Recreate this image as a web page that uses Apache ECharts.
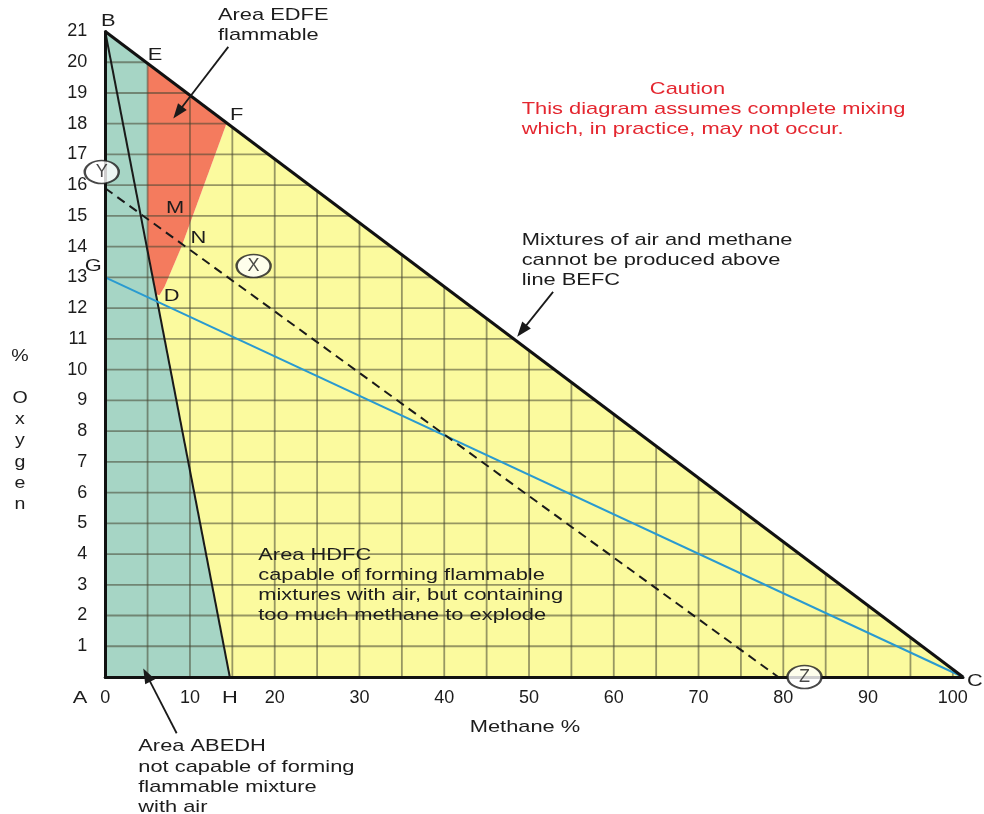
<!DOCTYPE html>
<html>
<head>
<meta charset="utf-8">
<script src="https://cdn.jsdelivr.net/npm/echarts@6/dist/echarts.min.js"></script>
<style>html,body{margin:0;padding:0;background:#fff}#c{width:984px;height:814px}</style>
</head>
<body>
<div id="c"></div>
<script>
// ---------- data ----------
const methaneTicks = [0, 10, 20, 30, 40, 50, 60, 70, 80, 90, 100];
const oxygenTicks = [0, 1, 2, 3, 4, 5, 6, 7, 8, 9, 10, 11, 12, 13, 14, 15, 16, 17, 18, 19, 20, 21];
const gridMethane = [5, 10, 15, 20, 25, 30, 35, 40, 45, 50, 55, 60, 65, 70, 75, 80, 85, 90, 95, 100];
const gridOxygen = [1, 2, 3, 4, 5, 6, 7, 8, 9, 10, 11, 12, 13, 14, 15, 16, 17, 18, 19, 20];

// key points [methane %, oxygen %]
const ptA = [0, 0];
const ptB = [0, 21];
const ptE = [5, 19.95];
const ptF = [14.3, 18.0];
const ptD = [5.99, 12.45];
const ptH = [14.7, 0];
const ptC = [101.2, 0];
const ptG = [0, 13];
const ptY = [0, 15.9];
const ptZ = [79.4, 0];
const lelOnBH = [5, 13.86];
const uelCurve = [[9.0, 14.0], [7.0, 12.7], [6.4, 12.42]];

// circled markers
const circleNames = ['Y', 'X', 'Z'];
const circlePos = [[-0.41, 16.43], [17.51, 13.37], [82.5, 0]];

// arrows [tailX, tailY, headX, headY]
const arrowsData = [
  [14.52, 20.5, 8.03, 18.17],
  [52.84, 12.53, 48.6, 11.07],
  [8.43, -1.83, 4.49, 0.28]
];

// ---------- derived shapes ----------
const tealArea = [ptA, ptB, ptE, lelOnBH, ptD, ptH];
const redArea = [ptE, ptF].concat(uelCurve, [ptD, lelOnBH]);
const yellowArea = [ptH, ptD].concat(uelCurve.slice().reverse(), [ptF, ptC]);
const areas = [
  {pts: yellowArea, color: '#fbfa9e'},
  {pts: tealArea, color: '#a6d5c5'},
  {pts: redArea, color: '#f47b5e'}
];
function topO2(x) { return ptB[1] * (1 - x / ptC[0]); }
function topCH4(y) { return ptC[0] * (1 - y / ptB[1]); }

const SX = 1.285;
const FONT = '"Liberation Sans", Arial, sans-serif';
const INK = '#1c1c1c';

const chart = echarts.init(document.getElementById('c'));
chart.setOption({
  animation: false,
  backgroundColor: '#fff',
  grid: {left: 105.2, right: 21, top: 31.5, bottom: 137},
  xAxis: {
    type: 'value', min: 0, max: ptC[0], interval: 10, z: 6,
    axisLine: {lineStyle: {color: '#111', width: 3}},
    axisTick: {show: false}, splitLine: {show: false},
    axisLabel: {
      fontSize: 18, color: INK, margin: 12, fontFamily: FONT,
      formatter: v => methaneTicks.indexOf(v) >= 0 ? String(v) : ''
    }
  },
  yAxis: {
    type: 'value', min: 0, max: 21, interval: 1, z: 6,
    axisLine: {show: true, lineStyle: {color: '#111', width: 3}},
    axisTick: {show: false}, splitLine: {show: false},
    axisLabel: {
      fontSize: 18, color: INK, margin: 18, fontFamily: FONT,
      formatter: v => (v !== 0 && oxygenTicks.indexOf(v) >= 0) ? String(v) : ''
    }
  },
  series: [
    {
      type: 'custom', name: 'areas', z: 1, clip: false,
      data: areas.map((a, i) => [i, 0]),
      renderItem: (p, api) => {
        const a = areas[p.dataIndex];
        return {type: 'polygon', shape: {points: a.pts.map(pt => api.coord(pt))}, style: {fill: a.color}};
      }
    },
    {
      type: 'custom', name: 'gridV', z: 2,
      data: gridMethane.map(x => [x, 0]),
      renderItem: (p, api) => {
        const x = gridMethane[p.dataIndex];
        const p1 = api.coord([x, 0]), p2 = api.coord([x, topO2(x)]);
        return {type: 'line', shape: {x1: p1[0], y1: p1[1], x2: p2[0], y2: p2[1]}, style: {stroke: 'rgba(70,70,50,0.55)', lineWidth: 1.8}};
      }
    },
    {
      type: 'custom', name: 'gridH', z: 2,
      data: gridOxygen.map(y => [0, y]),
      renderItem: (p, api) => {
        const y = gridOxygen[p.dataIndex];
        const p1 = api.coord([0, y]), p2 = api.coord([topCH4(y), y]);
        return {type: 'line', shape: {x1: p1[0], y1: p1[1], x2: p2[0], y2: p2[1]}, style: {stroke: 'rgba(70,70,50,0.55)', lineWidth: 1.8}};
      }
    },
    {type: 'line', name: 'BH', data: [ptB, ptH], symbol: 'none', clip: false, z: 4, lineStyle: {color: '#1a1a1a', width: 2}},
    {type: 'line', name: 'GC', data: [ptG, ptC], symbol: 'none', clip: false, z: 4, lineStyle: {color: '#2a9ad0', width: 2}},
    {type: 'line', name: 'YZ', data: [ptY, ptZ], symbol: 'none', clip: false, z: 4, lineStyle: {color: '#1a1a1a', width: 2, type: [9, 6]}},
    {type: 'line', name: 'BC', data: [ptB, ptC], symbol: 'none', clip: false, z: 5, lineStyle: {color: '#111', width: 3}},
    {
      type: 'custom', name: 'arrows', z: 7, clip: false,
      data: arrowsData.map(a => [a[2], a[3]]),
      renderItem: (p, api) => {
        const a = arrowsData[p.dataIndex];
        const t = api.coord([a[0], a[1]]), h = api.coord([a[2], a[3]]);
        const dx = h[0] - t[0], dy = h[1] - t[1], L = Math.hypot(dx, dy);
        const ux = dx / L, uy = dy / L, hl = 15, hw = 5.5;
        const bx = h[0] - ux * hl, by = h[1] - uy * hl;
        return {type: 'group', children: [
          {type: 'line', shape: {x1: t[0], y1: t[1], x2: bx + ux * 2, y2: by + uy * 2}, style: {stroke: '#1a1a1a', lineWidth: 1.8}},
          {type: 'polygon', shape: {points: [h, [bx - uy * hw, by + ux * hw], [bx + uy * hw, by - ux * hw]]}, style: {fill: '#1a1a1a'}}
        ]};
      }
    },
    {
      type: 'scatter', name: 'markers', z: 8, clip: false,
      symbol: 'circle', symbolSize: [34, 23],
      itemStyle: {color: '#fff', borderColor: '#1a1a1a', borderWidth: 2},
      label: {show: true, position: 'inside', formatter: '{b}', fontSize: 18, color: INK, fontFamily: FONT},
      data: circleNames.map((n, i) => ({name: n, value: circlePos[i]}))
    }
  ]
});

// ---------- annotation texts ----------
function txt(x, firstCenter, text, o) {
  o = o || {};
  const lh = o.lh || 20.3;
  return {
    type: 'text', x: x, y: firstCenter - lh / 2, scaleX: o.sx || SX, z: 100,
    style: {
      text: text, font: (o.size || 17) + 'px ' + FONT, fill: o.color || INK,
      align: o.align || 'left', verticalAlign: 'top', lineHeight: lh
    }
  };
}
const RED = '#e4262f';
const graphics = [
  txt(218, 15, 'Area EDFE\nflammable', {lh: 20}),
  txt(687.5, 89.3, 'Caution', {color: RED, align: 'center'}),
  txt(521.7, 109.3, 'This diagram assumes complete mixing\nwhich, in practice, may not occur.', {color: RED, lh: 20}),
  txt(521.7, 240.7, 'Mixtures of air and methane\ncannot be produced above\nline BEFC', {lh: 20}),
  txt(258.3, 555, 'Area HDFC\ncapable of forming flammable\nmixtures with air, but containing\ntoo much methane to explode', {lh: 20.2}),
  txt(138.3, 746.7, 'Area ABEDH\nnot capable of forming\nflammable mixture\nwith air', {lh: 20.3}),
  txt(525, 727, 'Methane %', {align: 'center'}),
  txt(20, 356, '%\n\nO\nx\ny\ng\ne\nn', {align: 'center', lh: 21.2, sx: 1.15})
];
const pointLabels = [
  ['B', 108.3, 21.7], ['E', 155, 55], ['F', 236.7, 115], ['M', 175, 208.3],
  ['N', 198.3, 238.3], ['G', 93.3, 266.7], ['D', 171.7, 296.7], ['C', 975, 681.7],
  ['A', 80, 698.3], ['H', 230, 698.3]
];
pointLabels.forEach(l => graphics.push(txt(l[1], l[2], l[0], {align: 'center'})));
chart.setOption({graphic: graphics});
</script>
</body>
</html>
